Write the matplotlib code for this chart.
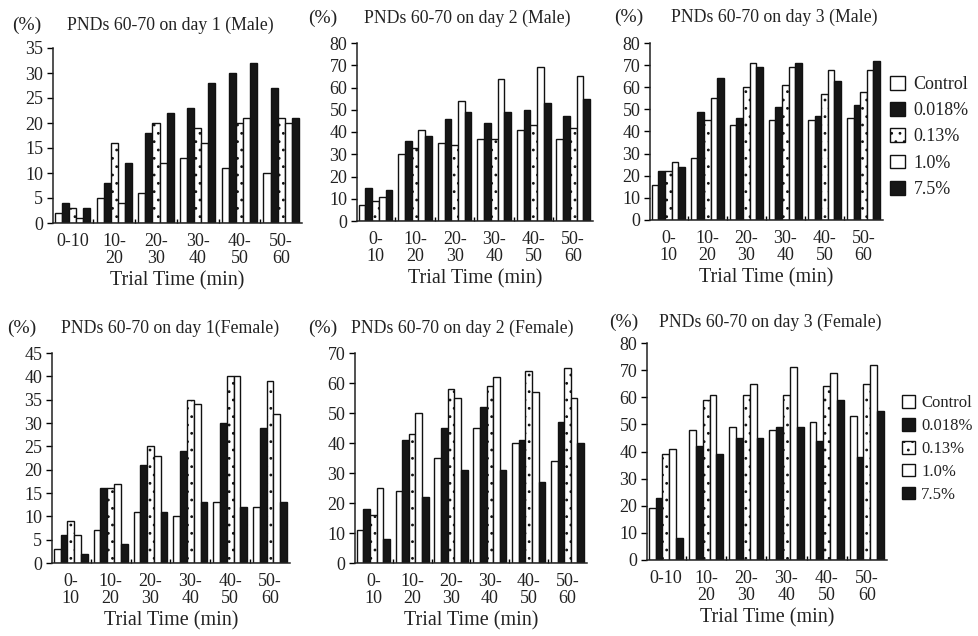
import matplotlib
matplotlib.use("Agg")
import matplotlib.pyplot as plt
import numpy as np

plt.rcParams['font.family'] = ['Liberation Serif', 'DejaVu Serif']
plt.rcParams['hatch.linewidth'] = 0.8

categories = ["0-\n10", "10-\n20", "20-\n30", "30-\n40", "40-\n50", "50-\n60"]
categories_alt = ["0-10", "10-\n20", "20-\n30", "30-\n40", "40-\n50", "50-\n60"]
series = ["Control", "0.018%", "0.13%", "1.0%", "7.5%"]

# values per panel: rows = series (Control, 0.018%, 0.13%, 1.0%, 7.5%), cols = time bins
male_day1 = [
    [2, 5, 6, 13, 11, 10],
    [4, 8, 18, 23, 30, 27],
    [3, 16, 20, 19, 20, 21],
    [1, 4, 12, 16, 21, 20],
    [3, 12, 22, 28, 32, 21],
]
male_day2 = [
    [7, 30, 35, 37, 41, 37],
    [15, 36, 46, 44, 50, 47],
    [9, 33, 34, 37, 43, 42],
    [11, 41, 54, 64, 69, 65],
    [14, 38, 49, 49, 53, 55],
]
male_day3 = [
    [16, 28, 43, 45, 45, 46],
    [22, 49, 46, 51, 47, 52],
    [22, 45, 60, 61, 57, 58],
    [26, 55, 71, 69, 68, 68],
    [24, 64, 69, 71, 63, 72],
]
female_day1 = [
    [3, 7, 11, 10, 13, 12],
    [6, 16, 21, 24, 30, 29],
    [9, 16, 25, 35, 40, 39],
    [6, 17, 23, 34, 40, 32],
    [2, 4, 11, 13, 12, 13],
]
female_day2 = [
    [11, 24, 35, 45, 40, 34],
    [18, 41, 45, 52, 41, 47],
    [16, 43, 58, 59, 64, 65],
    [25, 50, 55, 62, 57, 55],
    [8, 22, 31, 31, 27, 40],
]
female_day3 = [
    [19, 48, 49, 48, 51, 53],
    [23, 42, 45, 49, 44, 38],
    [39, 59, 61, 61, 64, 65],
    [41, 61, 65, 71, 69, 72],
    [8, 39, 45, 49, 59, 55],
]

titles = [
    "PNDs 60-70 on day 1 (Male)", "PNDs 60-70 on day 2 (Male)", "PNDs 60-70 on day 3 (Male)",
    "PNDs 60-70 on day 1(Female)", "PNDs 60-70 on day 2 (Female)", "PNDs 60-70 on day 3 (Female)",
]
ymax = [35, 80, 80, 45, 70, 80]
ystep = [5, 10, 10, 5, 10, 10]
data = [male_day1, male_day2, male_day3, female_day1, female_day2, female_day3]
xlabels = [categories_alt, categories, categories, categories, categories, categories_alt]

W, H = 979, 636
fig = plt.figure(figsize=(W / 100, H / 100), dpi=100)

# axes boxes in pixels: left, top, right, bottom
boxes = [
    (53, 48, 302, 223), (357, 43, 593, 221), (650, 43, 883, 220),
    (52, 353, 290, 563), (355, 353, 587, 563), (647, 343, 887, 560),
]
pct_pos = [(27, 25), (323, 18), (629, 17), (22, 328), (323, 328), (624, 322)]
title_pos = [(67, 25), (364, 18), (671, 17), (61, 328), (351, 328), (659, 322)]

face = ["white", "#161616", "white", "white", "#161616"]
hatch = [None, None, "..", None, None]
width = 0.17

for k in range(6):
    l, t, r, b = boxes[k]
    ax = fig.add_axes([l / W, 1 - b / H, (r - l) / W, (b - t) / H])
    x = np.arange(len(categories))
    for i, s in enumerate(series):
        ax.bar(x + (i - 2) * width, data[k][i], width, color=face[i], edgecolor="#111111",
               linewidth=1.0, hatch=hatch[i], label=s)
    ax.set_ylim(0, ymax[k])
    ax.set_yticks(np.arange(0, ymax[k] + 1, ystep[k]))
    ax.set_xlim(-0.47, 5.5)
    ax.set_xticks(x)
    ax.set_xticklabels(xlabels[k], fontsize=13, color="#222222", va="top", linespacing=1.0)
    ax.set_xticks(np.arange(0.5, 5.5, 1.0), minor=True)
    ax.tick_params(axis="x", which="major", length=0, pad=7)
    ax.tick_params(axis="x", which="minor", length=3, direction="in", width=1)
    ax.tick_params(axis="y", length=4, width=1, labelsize=13, labelcolor="#222222", pad=3)
    for sp in ["top", "right"]:
        ax.spines[sp].set_visible(False)
    for sp in ["left", "bottom"]:
        ax.spines[sp].set_linewidth(1.1)
        ax.spines[sp].set_color("#222222")
    ax.set_xlabel("Trial Time (min)", fontsize=14.5, color="#222222", labelpad=3)
    px, py = pct_pos[k]
    fig.text(px / W, 1 - py / H, "(%)", fontsize=14, ha="center", va="center", color="#222222")
    tx, ty = title_pos[k]
    fig.text(tx / W, 1 - ty / H, titles[k], fontsize=12.8, ha="left", va="center", color="#222222")
    if k == 2:
        ax.legend(loc="upper left", bbox_to_anchor=(1.0, 0.855), frameon=False, fontsize=13,
                  handlelength=0.8, handleheight=0.8, handletextpad=0.5, labelspacing=0.5,
                  borderaxespad=0, labelcolor="#222222")
    if k == 5:
        ax.legend(loc="upper left", bbox_to_anchor=(1.035, 0.79), frameon=False, fontsize=12,
                  handlelength=0.8, handleheight=0.8, handletextpad=0.35, labelspacing=0.4,
                  borderaxespad=0, labelcolor="#222222")

fig.savefig("out.png", dpi=100, facecolor="white")
